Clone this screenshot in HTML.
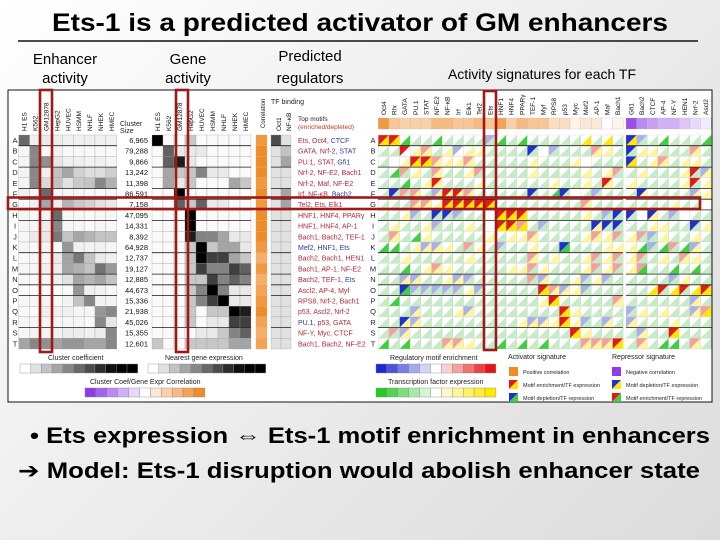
<!DOCTYPE html>
<html><head><meta charset="utf-8">
<style>
html,body{margin:0;padding:0;}
body{width:720px;height:540px;overflow:hidden;background:linear-gradient(135deg,#ffffff 0%,#eeeeee 45%,#dcdcdc 100%);font-family:"Liberation Sans",sans-serif;}
svg{display:block;}
</style></head>
<body>
<svg id="s" width="720" height="540" viewBox="0 0 720 540" xmlns="http://www.w3.org/2000/svg">
<text x="360" y="31" text-anchor="middle" font-family="Liberation Sans, sans-serif" font-weight="bold" font-size="25" textLength="616" lengthAdjust="spacingAndGlyphs" fill="#000">Ets-1 is a predicted activator of GM enhancers</text>
<line x1="18" y1="41" x2="698" y2="41" stroke="#111" stroke-width="1.6"/>
<g font-family="Liberation Sans, sans-serif" font-size="15" fill="#000" text-anchor="middle">
<text x="65" y="64">Enhancer</text>
<text x="65" y="83">activity</text>
<text x="188" y="64">Gene</text>
<text x="188" y="83">activity</text>
<text x="310" y="61">Predicted</text>
<text x="310" y="83">regulators</text>
<text x="542" y="79" font-size="14">Activity signatures for each TF</text>
</g>
<rect x="8" y="90" width="704" height="312" fill="#fff" stroke="#111" stroke-width="1"/>
<g id="fig"></g>
<text x="30" y="443" font-family="Liberation Sans, DejaVu Sans, sans-serif" font-weight="bold" font-size="22" textLength="680" lengthAdjust="spacingAndGlyphs">• Ets expression ⇔ Ets-1 motif enrichment in enhancers</text>
<text x="18" y="478" font-family="Liberation Sans, DejaVu Sans, sans-serif" font-weight="bold" font-size="22" textLength="682" lengthAdjust="spacingAndGlyphs">➔ Model: Ets-1 disruption would abolish enhancer state</text>
</svg>
<script>
const rows = "ABCDEFGHIJKLMNOPQRST".split("");
const cells = ["H1 ES","K562","GM12878","HepG2","HUVEC","HSMM","NHLF","NHEK","HMEC"];
const enh = [
[0.5,0.05,0.07,0.06,0.05,0.05,0.05,0.05,0.05],
[0.03,0.4,0.02,0.04,0.02,0.02,0.02,0.02,0.02],
[0.03,0.4,0.37,0.08,0.05,0.05,0.04,0.05,0.03],
[0.04,0.4,0.05,0.2,0.3,0.15,0.11,0.11,0.16],
[0.04,0.4,0.13,0.2,0.1,0.18,0.2,0.4,0.26],
[0.05,0.03,0.5,0.03,0.03,0.03,0.02,0.02,0.03],
[0.02,0.05,0.3,0.06,0.25,0.18,0.15,0.1,0.07],
[0.03,0.02,0.04,0.5,0.03,0.03,0.02,0.03,0.03],
[0.03,0.03,0.06,0.4,0.03,0.03,0.02,0.03,0.02],
[0.03,0.07,0.08,0.45,0.2,0.3,0.25,0.2,0.2],
[0.03,0.02,0.04,0.02,0.35,0.05,0.04,0.04,0.03],
[0.02,0.03,0.03,0.07,0.3,0.45,0.2,0.07,0.05],
[0.03,0.03,0.05,0.06,0.3,0.26,0.2,0.47,0.34],
[0.02,0.02,0.03,0.05,0.1,0.3,0.25,0.3,0.2],
[0.01,0.01,0.02,0.01,0.02,0.35,0.05,0.04,0.02],
[0.03,0.03,0.04,0.02,0.04,0.2,0.4,0.04,0.04],
[0.02,0.01,0.05,0.05,0.05,0.03,0.03,0.35,0.4],
[0.03,0.03,0.03,0.03,0.03,0.03,0.02,0.4,0.08],
[0.03,0.04,0.04,0.04,0.06,0.06,0.05,0.06,0.4],
[0.3,0.4,0.37,0.3,0.35,0.35,0.3,0.3,0.4]];
const gene = [
[0.7,-0.1,-0.1,0.1,-0.1,-0.1,-0.1,-0.1,-0.1],
[-0.1,0.4,0.0,0.0,0.0,-0.1,-0.1,-0.1,-0.1],
[-0.2,0.4,0.6,0.0,-0.1,-0.1,-0.1,-0.1,-0.1],
[-0.1,0.2,0.1,0.1,0.3,0.0,0.0,-0.1,-0.1],
[-0.2,0.2,0.0,0.1,-0.1,-0.1,-0.1,0.2,0.1],
[-0.2,-0.1,0.7,-0.1,-0.1,-0.1,-0.2,-0.1,-0.1],
[-0.1,-0.1,0.4,0.1,0.4,0.0,0.0,-0.1,-0.1],
[-0.2,-0.1,-0.2,0.7,-0.1,-0.1,-0.1,-0.1,-0.1],
[-0.2,-0.1,-0.2,0.7,-0.1,-0.1,-0.1,-0.1,-0.1],
[-0.1,-0.1,-0.1,0.6,0.3,0.3,0.2,0.0,0.0],
[-0.1,-0.1,-0.1,0.1,0.7,0.1,0.2,0.2,0.0],
[-0.1,-0.1,-0.1,0.1,0.7,0.5,0.5,0.2,0.1],
[-0.1,-0.1,-0.1,0.1,0.5,0.3,0.3,0.5,0.4],
[-0.1,-0.1,-0.1,0.1,0.1,0.5,0.3,0.4,0.3],
[-0.1,-0.1,-0.1,0.1,0.3,0.7,0.3,0.0,0.0],
[-0.1,-0.1,-0.1,0.1,0.3,0.5,0.7,0.0,0.0],
[-0.1,-0.1,-0.1,0.1,-0.1,0.1,0.1,0.7,0.6],
[-0.1,-0.1,-0.1,0.1,-0.1,0.0,0.0,0.5,0.5],
[-0.1,-0.1,-0.1,-0.1,0.0,0.0,0.1,0.3,0.4],
[0.1,-0.1,-0.1,0.1,0.1,0.1,0.1,0.2,0.2]];
const clusterSize = ["6,965","79,288","9,866","13,242","11,398","86,591","7,158","47,095","14,331","8,392","64,928","12,737","19,127","12,885","44,673","15,336","21,938","45,026","15,355","12,601"];
const rowCorr = [0.9,1.0,1.0,1.0,0.9,1.0,0.9,1.0,1.0,1.0,0.9,0.7,0.9,0.7,0.8,0.9,1.0,0.8,0.7,0.8];
const oct1 = [0.6,0.1,0.1,0.1,0.1,0.1,0.1,0.1,0.1,0.1,0.1,0.1,0.1,0.1,0.1,0.1,0.1,0.1,0.1,0.1];
const nfkb = [0.1,0.2,0.3,0.1,0.1,0.3,0.3,0.1,0.1,0.1,0.1,0.1,0.1,0.1,0.1,0.1,0.1,0.1,0.1,0.1];
const motifs = ["Ets, Oct4, ~CTCF","GATA, Nrf-2, ~STAT","PU.1, STAT, ~Gfi1","Nrf-2, NF-E2, Bach1","Nrf-2, Maf, NF-E2","Irf, NF-κB, ~Bach2","Tel2, Ets, Elk1","HNF1, HNF4, PPARγ","HNF1, HNF4, AP-1","Bach1, Bach2, TEF-1","~Mef2, ~HNF1, ~Ets","Bach2, Bach1, HEN1","Bach1, AP-1, NF-E2","Bach2, TEF-1, ~Ets","Ascl2, AP-4, Myf","RPS8, Nrf-2, Bach1","p53, Ascl2, Nrf-2","~PU.1, p53, GATA","NF-Y, Myc, CTCF","Bach1, Bach2, NF-E2"];
const tfs = ["Oct4","Rfx","GATA","PU.1","STAT","NF-E2","NF-κB","Irf","Elk1","Tel2","Ets","HNF1","HNF4","PPARγ","TEF-1","Myf","RPS8","p53","Myc","Mef2","AP-1","Maf","Bach1","Gfi1","Bach2","CTCF","AP-4","NF-Y","HEN1","Nrf-2","Ascl2"];
const tfCorr = [0.9,0.5,0.4,0.4,0.4,0.6,0.6,0.5,0.5,0.6,0.5,0.8,0.4,0.6,0.5,0.5,0.3,0.3,0.1,0.2,0.2,0.0,0.1,-0.9,-0.6,-0.5,-0.4,-0.4,-0.3,-0.2,-0.1];
const motifCodes = [
"RR........b............Bb......",
"..R.r..b......B.b...r..B.....r.",
"...RRr..r..............B..r....",
"..r..r...r............r......Rb",
".....R...............R.......R.",
".Brr.bRRr.....B..B..b...B....b.",
"...rr.RRRRR........r...........",
"...b.BBb...RRR.......bBB.B.b...",
".....b.....RRr.b....BBB......B.",
".r............r.....r.r.rb.....",
"....bb..r..b.....B.......b.r.b.",
"..............r.....r.r.r...r..",
".....r........r.....r.r.r......",
"..bb...bb.....rb...b.b.....b...",
"..Bbbbbb.b.....Rrb.b......R.R.R",
"................R.....r......b.",
"...b....b........R.....b.....br",
"..Bb..........bb.R.b.b.b.......",
".rb...............R.....b..R...",
"......rr...........rrrR.r....r."];
const exprCodes = [
"YYGggGgggggGgGgggggYgYgYggGgggG",
"gg.yygy.yyggggg.ggggyyggyygggyg",
"g.yYYyyyygggggygggy.gggYgyygyyg",
"gGgygyggygggggyggggygyggygggygy",
"ggGgyygggyggggggyggygygyggggygy",
"gggygyyyygggggggGg.gggggyggggyy",
"gggyyyYYYYYggggggggygggggggygg.",
"ggyggggggg.YYYgggggygggg.ygg.gg",
"gyggygggyg.YYYggggggyggggyygggy",
"gygGygggggygyyyggggyyygyggyggyg",
"GGgyyyyggyggggyggGgggyyyGgGgGyg",
"ggygggggygggggygyggygygyggygyyg",
"ggGgyyygggggyygygggygygyGggGgGg",
"ggyyggyygggggggyggygygggggggygg",
"ggGgggggyggggggYyyyggggggYgYgYY",
"gGgggggggggggggyYgggggyggggggyg",
"gggygggyyggggggggYygggggygyggyY",
"ggyygggggggggyyyyYyggygygggyggg",
"ggygggggggggggggggYyggggyggYggg",
"GgGgggyyyggGgGgGgggyyyYgygGGgyg"];
const legendCoef = [0.0,0.1,0.2,0.3,0.4,0.5,0.6,0.7,0.8,0.9,1.0];
const legendGene = [-0.3,-0.2,-0.1,0.0,0.1,0.2,0.3,0.4,0.5,0.6,0.7];
const legendCorr = [-1.0,-0.8,-0.6,-0.4,-0.2,0.0,0.2,0.4,0.6,0.8,1.0];
const legendMotif = [-1.0,-0.8,-0.6,-0.4,-0.2,0.0,0.2,0.4,0.6,0.8,1.0];
const legendExpr = [-1.0,-0.8,-0.6,-0.4,-0.2,0.0,0.2,0.4,0.6,0.8,1.0];
const rowBreaks = [0,2,4,5,6,7,10,12,13,14,17];

const NS="http://www.w3.org/2000/svg";
const fig=document.getElementById('fig');
function mk(tag,attrs,parent){const e=document.createElementNS(NS,tag);for(const k in attrs)e.setAttribute(k,attrs[k]);(parent||fig).appendChild(e);return e;}
const rowY = i => 135 + i*10.7;
const RH = 10.7;
const enhX = j => 18.7 + j*10.9;
const geneX = j => 152 + j*11;
const tfX = j => j<23 ? 378.3 + j*10.65 : 626 + (j-23)*10.65;
const TW = 10.65;
function gray(v){const g=Math.max(0,Math.min(255,Math.round(255 - v*300)));return `rgb(${g},${g},${g})`;}
function grayGene(v){const g=Math.max(0,Math.min(255,Math.round(250 - Math.max(0,v+0.05)*340)));return `rgb(${g},${g},${g})`;}
function mix(a,b,t){return `rgb(${Math.round(a[0]+(b[0]-a[0])*t)},${Math.round(a[1]+(b[1]-a[1])*t)},${Math.round(a[2]+(b[2]-a[2])*t)})`;}
function divColor(v,neg,pos){return v<0?mix([255,255,255],neg,-v):mix([255,255,255],pos,v);}
const ORANGE=[240,140,40], PURPLE=[140,60,230];
const motifColor={R:'#e41a1a',r:'#f4a0a0',b:'#aab0ee',B:'#1f2fd0','.':'#ffffff'};
const exprColor={G:'#3fcf3f',g:'#c6ecc6',y:'#fff59a',Y:'#ffe800','.':'#ffffff'};

function vtext(x,y,t,size,name){const e=mk('text',{x:0,y:0,transform:`translate(${x},${y}) rotate(-90)`,'font-size':size,'font-family':'Liberation Sans, sans-serif',fill:'#111'});e.textContent=t;return e;}
cells.forEach((c,j)=>{vtext(enhX(j)+8,131,c,6.5,'enhancer-col-label');vtext(geneX(j)+8,131,c,6.5,'gene-col-label');});
vtext(265,128,'Correlation',6,'correlation-col-label');
vtext(281,131,'Oct1',6.5,'oct1-col-label');
vtext(291,131,'NF-κB',6.5,'nfkb-col-label');
let t=mk('text',{x:120,y:126,'font-size':7,'font-family':'Liberation Sans, sans-serif',fill:'#222'});t.textContent='Cluster';
t=mk('text',{x:120,y:133,'font-size':7,'font-family':'Liberation Sans, sans-serif',fill:'#222'});t.textContent='Size';
t=mk('text',{x:271,y:104,'font-size':7,'font-family':'Liberation Sans, sans-serif',fill:'#222'});t.textContent='TF binding';
t=mk('text',{x:298,y:121,'font-size':6.5,'font-family':'Liberation Sans, sans-serif',fill:'#222'});t.textContent='Top motifs';
t=mk('text',{x:298,y:129,'font-size':6.5,'font-family':'Liberation Sans, sans-serif',fill:'#c0392b'});t.textContent='(enriched/depleted)';
tfs.forEach((n,j)=>{vtext(tfX(j)+7.5,115,n,6.5,'tf-col-label');});

rows.forEach((r,i)=>{
  const y=rowY(i);
  let e=mk('text',{x:15,y:y+8,'font-size':7.5,'text-anchor':'middle','font-family':'Liberation Sans, sans-serif',fill:'#222'});e.textContent=r;
  
  e=mk('text',{x:373,y:y+8,'font-size':7.5,'text-anchor':'middle','font-family':'Liberation Sans, sans-serif',fill:'#222'});e.textContent=r;
  
  enh[i].forEach((v,j)=>{e=mk('rect',{x:enhX(j),y:y,width:10.9,height:RH,fill:gray(v),stroke:'#999','stroke-width':0.3});
    });
  gene[i].forEach((v,j)=>{e=mk('rect',{x:geneX(j),y:y,width:11,height:RH,fill:grayGene(v),stroke:'#999','stroke-width':0.3});
    });
  e=mk('text',{x:148,y:y+8,'font-size':7.5,'text-anchor':'end','font-family':'Liberation Sans, sans-serif',fill:'#111'});e.textContent=clusterSize[i];
  
  e=mk('rect',{x:256,y:y,width:11,height:RH,fill:divColor(rowCorr[i],PURPLE,ORANGE),stroke:'#e0b080','stroke-width':0.3});
  
  e=mk('rect',{x:271,y:y,width:10,height:RH,fill:gray(oct1[i]),stroke:'#999','stroke-width':0.3});
  
  e=mk('rect',{x:281,y:y,width:10,height:RH,fill:gray(nfkb[i]),stroke:'#999','stroke-width':0.3});
  
  const tx=mk('text',{x:298,y:y+8,'font-size':7,'font-family':'Liberation Sans, sans-serif'});
  
  motifs[i].split(', ').forEach((m,k)=>{const sp=mk('tspan',{fill:m[0]==='~'?'#2a3aa8':'#b0283a'},tx);sp.textContent=(k?', ':'')+m.replace('~','');});
  const mc=(motifCodes[i]+'.'.repeat(31)).slice(0,31), ec=(exprCodes[i]+'g'.repeat(31)).slice(0,31);
  for(let j=0;j<31;j++){
    const x=tfX(j);
    e=mk('path',{d:`M${x},${y}L${x+TW},${y}L${x},${y+RH}Z`,fill:motifColor[mc[j]]});
    
    e=mk('path',{d:`M${x+TW},${y}L${x+TW},${y+RH}L${x},${y+RH}Z`,fill:exprColor[ec[j]]});
    
    e=mk('rect',{x:x,y:y,width:TW,height:RH,fill:'none',stroke:'#ccc','stroke-width':0.3});
    
  }
});
tfCorr.forEach((v,j)=>{const e=mk('rect',{x:tfX(j),y:118,width:TW,height:11,fill:divColor(v,PURPLE,ORANGE),stroke:'#bbb','stroke-width':0.3});
  });
rowBreaks.forEach(i=>{const y=rowY(i+1);
  [[18.7,117],[152,251],[271,291],[378,623],[626,712]].forEach(([a,b])=>{const e=mk('line',{x1:a,y1:y,x2:b,y2:y,stroke:'#222','stroke-width':0.8});
  });});
[[40,90,12,262],[176,90,12,262],[484,91,12,259],[8,197.5,692,11.5]].forEach(([x,y,w,h])=>{const e=mk('rect',{x:x,y:y,width:w,height:h,fill:'none',stroke:'#a01818','stroke-width':2.6});
  });
function legendRow(vals,x0,w,y,colorFn,title,tx,name){
  const e=mk('text',{x:tx,y:y-4,'font-size':7,'font-family':'Liberation Sans, sans-serif',fill:'#222'});e.textContent=title;
  
  vals.forEach((v,k)=>{const r=mk('rect',{x:x0+k*w,y:y,width:w,height:9,fill:colorFn(v),stroke:'#888','stroke-width':0.4});
    });
}
legendRow(legendCoef,20,10.7,364,gray,'Cluster coefficient',48,'cluster-coef-legend');
legendRow(legendGene,148,10.7,364,v=>gray((v+0.3)),'Nearest gene expression',165,'gene-expr-legend');
legendRow(legendCorr,85,10.9,388,v=>divColor(v,PURPLE,ORANGE),'Cluster Coef/Gene Expr Correlation',90,'correlation-legend');
legendRow(legendMotif,376,10.9,364,v=>divColor(v,[30,40,210],[230,20,20]),'Regulatory motif enrichment',390,'motif-legend');
legendRow(legendExpr,376,10.9,388,v=>divColor(v,[40,200,40],[255,232,0]),'Transcription factor expression',388,'tf-expr-legend');
function sig(x,y,c1,c2,label,name){
  let e=mk('path',{d:`M${x},${y}L${x+9},${y}L${x},${y+9}Z`,fill:c1});
  e=mk('path',{d:`M${x+9},${y}L${x+9},${y+9}L${x},${y+9}Z`,fill:c2});
  e=mk('text',{x:x+14,y:y+7,'font-size':5.5,'font-family':'Liberation Sans, sans-serif',fill:'#222'});e.textContent=label;
  
}
t=mk('text',{x:508,y:359,'font-size':7,'font-family':'Liberation Sans, sans-serif',fill:'#222'});t.textContent='Activator signature';
t=mk('text',{x:612,y:359,'font-size':7,'font-family':'Liberation Sans, sans-serif',fill:'#222'});t.textContent='Repressor signature';
sig(509,367,'#f08c28','#f08c28','Positive correlation','positive-corr');
sig(509,380,'#e41a1a','#ffe800','Motif enrichment/TF expression','act-enrich');
sig(509,393,'#1f2fd0','#3fcf3f','Motif depletion/TF repression','act-deplete');
sig(612,367,'#8c3ce6','#8c3ce6','Negative correlation','negative-corr');
sig(612,380,'#1f2fd0','#ffe800','Motif depletion/TF expression','rep-deplete');
sig(612,393,'#e41a1a','#3fcf3f','Motif enrichment/TF repression','rep-enrich');
</script>
</body></html>
